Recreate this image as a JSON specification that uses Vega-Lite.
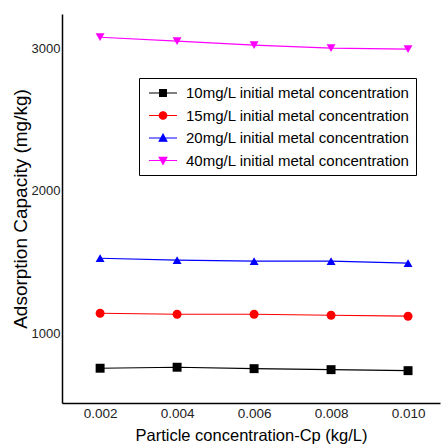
{
  "$schema": "https://vega.github.io/schema/vega-lite/v6.json",
  "autosize": {"type": "none"},
  "width": 378,
  "height": 389,
  "padding": {"left": 62, "top": 14, "right": 4, "bottom": 45},
  "background": "white",
  "config": {
    "view": {"stroke": null},
    "font": "Liberation Sans",
    "axis": {"grid": false, "ticks": false, "domainColor": "black", "domainWidth": 1.5, "labelColor": "#222", "titleColor": "black", "labelFont": "Liberation Sans", "titleFont": "Liberation Sans", "titleFontWeight": "normal"}
  },
  "data": {"values": [
    {"x": 0.002, "y": 754, "series": "10mg/L initial metal concentration"},
    {"x": 0.004, "y": 761, "series": "10mg/L initial metal concentration"},
    {"x": 0.006, "y": 751, "series": "10mg/L initial metal concentration"},
    {"x": 0.008, "y": 744, "series": "10mg/L initial metal concentration"},
    {"x": 0.010, "y": 737, "series": "10mg/L initial metal concentration"},
    {"x": 0.002, "y": 1140, "series": "15mg/L initial metal concentration"},
    {"x": 0.004, "y": 1133, "series": "15mg/L initial metal concentration"},
    {"x": 0.006, "y": 1133, "series": "15mg/L initial metal concentration"},
    {"x": 0.008, "y": 1126, "series": "15mg/L initial metal concentration"},
    {"x": 0.010, "y": 1119, "series": "15mg/L initial metal concentration"},
    {"x": 0.002, "y": 1526, "series": "20mg/L initial metal concentration"},
    {"x": 0.004, "y": 1512, "series": "20mg/L initial metal concentration"},
    {"x": 0.006, "y": 1505, "series": "20mg/L initial metal concentration"},
    {"x": 0.008, "y": 1505, "series": "20mg/L initial metal concentration"},
    {"x": 0.010, "y": 1491, "series": "20mg/L initial metal concentration"},
    {"x": 0.002, "y": 3077, "series": "40mg/L initial metal concentration"},
    {"x": 0.004, "y": 3049, "series": "40mg/L initial metal concentration"},
    {"x": 0.006, "y": 3021, "series": "40mg/L initial metal concentration"},
    {"x": 0.008, "y": 3000, "series": "40mg/L initial metal concentration"},
    {"x": 0.010, "y": 2993, "series": "40mg/L initial metal concentration"}
  ]},
  "encoding": {
    "x": {"field": "x", "type": "quantitative", "scale": {"domain": [0.00101, 0.01083], "nice": false, "zero": false},
      "axis": {"title": "Particle concentration-Cp (kg/L)", "values": [0.002, 0.004, 0.006, 0.008, 0.010], "format": ".3f",
        "labelFontSize": 13.5, "titleFontSize": 16.5, "labelPadding": 3, "titlePadding": 8}},
    "y": {"field": "y", "type": "quantitative", "scale": {"domain": [510, 3240], "nice": false, "zero": false},
      "axis": {"title": "Adsorption Capacity (mg/kg)", "values": [1000, 2000, 3000], "format": "d",
        "labelFontSize": 13, "labelPadding": 2, "titleFontSize": 19, "titlePadding": 1}},
    "color": {"field": "series", "type": "nominal",
      "scale": {"domain": ["10mg/L initial metal concentration", "15mg/L initial metal concentration", "20mg/L initial metal concentration", "40mg/L initial metal concentration"], "range": ["#000000", "#ff0000", "#0000ff", "#ff00ff"]},
      "legend": {"title": null, "orient": "none", "legendX": 77, "legendY": 64, "strokeColor": "black", "fillColor": "white", "padding": 6,
        "labelFont": "Liberation Sans", "labelFontSize": 15, "labelColor": "black", "symbolSize": 256, "symbolOffset": 9, "labelOffset": 14, "rowPadding": 5.5, "labelLimit": 400,
        "encode": {"symbols": {"update": {
          "shape": {"signal": "indexof(datum.value,'10mg')==0 ? 'M-1.75,0H1.75M-0.42,-0.42H0.42V0.42H-0.42Z' : indexof(datum.value,'15mg')==0 ? 'M-1.75,0H1.75M0.47,0A0.47,0.47,0,1,1,-0.47,0A0.47,0.47,0,1,1,0.47,0Z' : indexof(datum.value,'20mg')==0 ? 'M-1.75,0H1.75M0,-0.48L0.48,0.4H-0.48Z' : 'M-1.75,0H1.75M0,0.48L0.48,-0.4H-0.48Z'"},
          "stroke": {"scale": "color", "field": "value"},
          "fill": {"scale": "color", "field": "value"},
          "strokeWidth": {"value": 1.2},
          "opacity": {"value": 1}
        }}}}}
  },
  "layer": [
    {"mark": {"type": "line", "strokeWidth": 1.2}},
    {"mark": {"type": "point", "filled": true, "opacity": 1, "size": 80},
      "encoding": {
        "shape": {"field": "series", "type": "nominal", "scale": {"range": ["square", "circle", "triangle-up", "triangle-down"]}, "legend": null}
      }}
  ]
}
